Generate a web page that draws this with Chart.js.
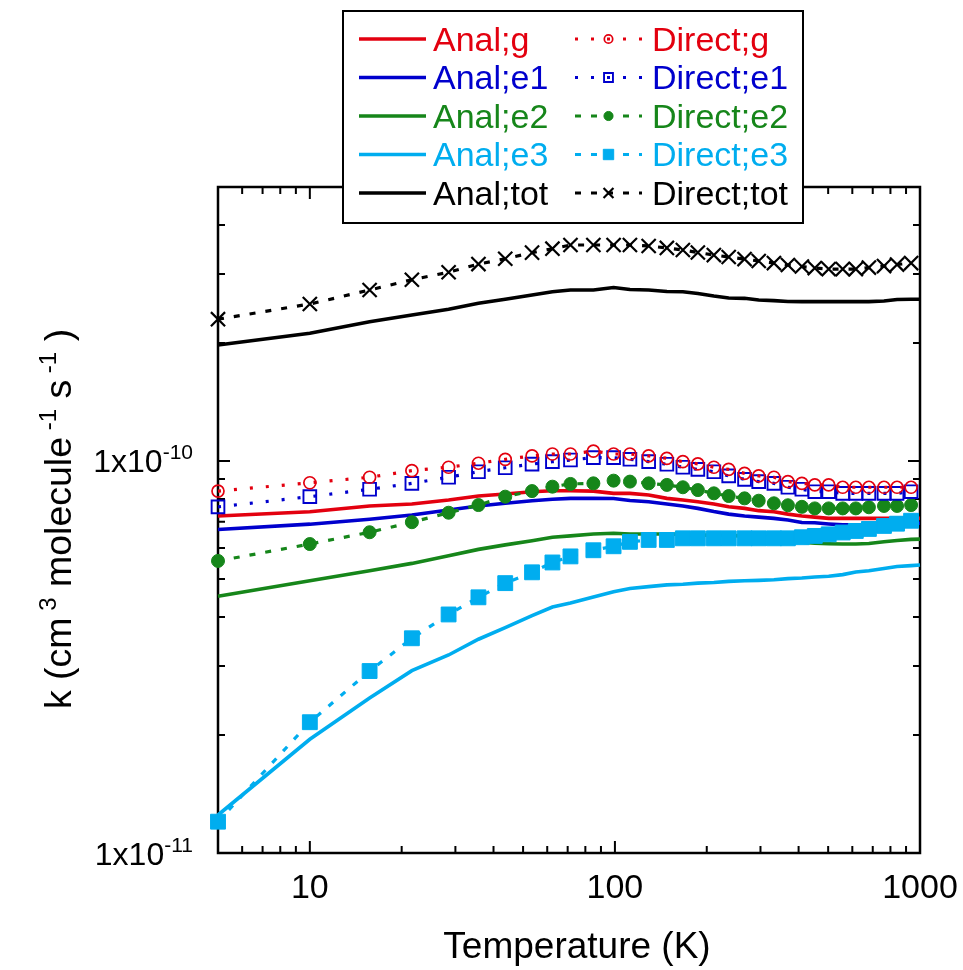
<!DOCTYPE html>
<html>
<head>
<meta charset="utf-8">
<script src="https://cdn.jsdelivr.net/npm/chart.js@4.4.0/dist/chart.umd.min.js"></script>
<style>
  html, body { margin: 0; padding: 0; background: #ffffff; }
  #wrap { width: 963px; height: 970px; }
</style>
</head>
<body>
<div id="wrap"><canvas id="c" width="963" height="970"></canvas></div>
<script>
// ---------------- data ----------------
const temperatures = [5, 10, 15.7, 21.6, 28.5, 35.7, 43.7, 53.5, 62.4, 71.5, 85, 99, 112, 129, 148, 167, 187, 211, 236, 266, 296, 332, 369, 410, 452, 502, 558, 616, 680, 762, 841, 935];
const analTemperatures = [5, 10, 15.7, 21.6, 28.5, 35.7, 43.7, 53.5, 62.4, 71.5, 85, 99, 112, 129, 148, 167, 187, 211, 236, 266, 296, 332, 369, 410, 452, 502, 558, 616, 680, 762, 841, 935, 1000];

const analG = [7.24e-11, 7.42e-11, 7.68e-11, 7.77e-11, 7.95e-11, 8.14e-11, 8.24e-11, 8.35e-11, 8.40e-11, 8.40e-11, 8.38e-11, 8.27e-11, 8.27e-11, 8.19e-11, 8.03e-11, 7.95e-11, 7.87e-11, 7.77e-11, 7.64e-11, 7.57e-11, 7.47e-11, 7.42e-11, 7.32e-11, 7.24e-11, 7.19e-11, 7.14e-11, 7.14e-11, 7.14e-11, 7.14e-11, 7.14e-11, 7.14e-11, 7.14e-11, 7.14e-11];
const analE1 = [6.69e-11, 6.90e-11, 7.10e-11, 7.28e-11, 7.50e-11, 7.68e-11, 7.80e-11, 7.92e-11, 7.99e-11, 8.03e-11, 8.03e-11, 8.02e-11, 7.93e-11, 7.87e-11, 7.77e-11, 7.68e-11, 7.57e-11, 7.43e-11, 7.32e-11, 7.24e-11, 7.19e-11, 7.14e-11, 7.07e-11, 6.97e-11, 6.96e-11, 6.91e-11, 6.87e-11, 6.87e-11, 6.87e-11, 6.89e-11, 6.93e-11, 6.94e-11, 6.94e-11];
const analE2 = [4.52e-11, 4.95e-11, 5.25e-11, 5.48e-11, 5.73e-11, 5.95e-11, 6.11e-11, 6.26e-11, 6.39e-11, 6.44e-11, 6.51e-11, 6.54e-11, 6.51e-11, 6.51e-11, 6.51e-11, 6.50e-11, 6.47e-11, 6.47e-11, 6.45e-11, 6.44e-11, 6.40e-11, 6.36e-11, 6.29e-11, 6.21e-11, 6.17e-11, 6.15e-11, 6.14e-11, 6.14e-11, 6.16e-11, 6.22e-11, 6.27e-11, 6.31e-11, 6.32e-11];
const analE3 = [1.25e-11, 1.95e-11, 2.485e-11, 2.918e-11, 3.20e-11, 3.51e-11, 3.76e-11, 4.03e-11, 4.24e-11, 4.34e-11, 4.50e-11, 4.64e-11, 4.73e-11, 4.78e-11, 4.83e-11, 4.85e-11, 4.88e-11, 4.90e-11, 4.93e-11, 4.95e-11, 4.96e-11, 4.98e-11, 5.01e-11, 5.03e-11, 5.06e-11, 5.08e-11, 5.13e-11, 5.21e-11, 5.25e-11, 5.32e-11, 5.38e-11, 5.41e-11, 5.43e-11];
const analTot = [1.977e-10, 2.117e-10, 2.266e-10, 2.357e-10, 2.438e-10, 2.525e-10, 2.585e-10, 2.651e-10, 2.703e-10, 2.730e-10, 2.730e-10, 2.770e-10, 2.738e-10, 2.730e-10, 2.706e-10, 2.703e-10, 2.675e-10, 2.635e-10, 2.605e-10, 2.600e-10, 2.575e-10, 2.565e-10, 2.553e-10, 2.550e-10, 2.550e-10, 2.550e-10, 2.550e-10, 2.550e-10, 2.550e-10, 2.560e-10, 2.583e-10, 2.585e-10, 2.585e-10];

const directG = [8.38e-11, 8.80e-11, 9.09e-11, 9.45e-11, 9.64e-11, 9.87e-11, 10.10e-11, 10.30e-11, 10.42e-11, 10.42e-11, 10.60e-11, 10.42e-11, 10.42e-11, 10.30e-11, 10.16e-11, 9.96e-11, 9.83e-11, 9.64e-11, 9.52e-11, 9.30e-11, 9.16e-11, 9.09e-11, 8.86e-11, 8.77e-11, 8.69e-11, 8.69e-11, 8.57e-11, 8.57e-11, 8.57e-11, 8.57e-11, 8.57e-11, 8.57e-11];
const directE1 = [7.64e-11, 8.11e-11, 8.47e-11, 8.77e-11, 9.09e-11, 9.39e-11, 9.61e-11, 9.82e-11, 9.96e-11, 10.06e-11, 10.20e-11, 10.20e-11, 10.10e-11, 9.96e-11, 9.81e-11, 9.64e-11, 9.52e-11, 9.39e-11, 9.16e-11, 8.98e-11, 8.86e-11, 8.77e-11, 8.57e-11, 8.47e-11, 8.35e-11, 8.35e-11, 8.27e-11, 8.27e-11, 8.27e-11, 8.27e-11, 8.27e-11, 8.35e-11];
const directE2 = [5.56e-11, 6.14e-11, 6.58e-11, 6.98e-11, 7.38e-11, 7.72e-11, 8.11e-11, 8.38e-11, 8.60e-11, 8.74e-11, 8.77e-11, 8.91e-11, 8.86e-11, 8.77e-11, 8.69e-11, 8.57e-11, 8.43e-11, 8.27e-11, 8.14e-11, 8.03e-11, 7.92e-11, 7.80e-11, 7.71e-11, 7.64e-11, 7.57e-11, 7.57e-11, 7.57e-11, 7.57e-11, 7.62e-11, 7.68e-11, 7.68e-11, 7.72e-11];
const directE3 = [1.202e-11, 2.156e-11, 2.912e-11, 3.53e-11, 4.06e-11, 4.49e-11, 4.88e-11, 5.20e-11, 5.51e-11, 5.71e-11, 5.92e-11, 6.06e-11, 6.22e-11, 6.29e-11, 6.29e-11, 6.35e-11, 6.35e-11, 6.35e-11, 6.35e-11, 6.35e-11, 6.35e-11, 6.35e-11, 6.35e-11, 6.39e-11, 6.44e-11, 6.50e-11, 6.57e-11, 6.63e-11, 6.71e-11, 6.83e-11, 6.92e-11, 7.04e-11];
const directTot = [2.30e-10, 2.515e-10, 2.73e-10, 2.90e-10, 3.03e-10, 3.18e-10, 3.28e-10, 3.40e-10, 3.48e-10, 3.556e-10, 3.556e-10, 3.556e-10, 3.556e-10, 3.536e-10, 3.495e-10, 3.453e-10, 3.403e-10, 3.353e-10, 3.314e-10, 3.275e-10, 3.237e-10, 3.199e-10, 3.162e-10, 3.134e-10, 3.106e-10, 3.088e-10, 3.088e-10, 3.088e-10, 3.115e-10, 3.143e-10, 3.171e-10, 3.199e-10];

const xTickValues = [5, 6, 7, 8, 9, 10, 20, 30, 40, 50, 60, 70, 80, 90, 100, 200, 300, 400, 500, 600, 700, 800, 900, 1000];
const xTickLabels = ['10', '100', '1000'];
const xLabelValues = [10, 100, 1000];
const yTickValues = [1e-11, 2e-11, 3e-11, 4e-11, 5e-11, 6e-11, 7e-11, 8e-11, 9e-11, 1e-10, 2e-10, 3e-10, 4e-10, 5e-10];
const yLabelValues = [1e-11, 1e-10];
const yLabelBase = '1x10';
const yLabelExponents = ['-11', '-10'];
const xTitle = 'Temperature (K)';
const yTitleParts = [['k (cm', false], [' 3', true], [' molecule', false], [' -1', true], [' s', false], [' -1', true], [' )', false]];

// ---------------- styles ----------------
const RED = '#e3000f', BLUE = '#0000cd', GREEN = '#16861a', CYAN = '#00adef', BLACK = '#000000';
const FONT = '"Liberation Sans", Arial, Helvetica, sans-serif';
const NONE = 'rgba(0,0,0,0)';

function pts(xs, ys) { return xs.map((x, i) => ({ x: x, y: ys[i] })); }

function anal(label, color, ys) {
  return { label, data: pts(analTemperatures, ys), borderColor: color, backgroundColor: color,
    borderWidth: 3.6, pointRadius: 0, pointHoverRadius: 0, tension: 0, fill: false, clip: false, kind: 'anal' };
}
function direct(label, color, ys, dash, style, radius, filled, pbw) {
  return { label, data: pts(temperatures, ys), borderColor: color, backgroundColor: color,
    borderWidth: 3.2, borderDash: dash, borderCapStyle: 'butt', tension: 0, fill: false, clip: false,
    pointStyle: style, pointRadius: radius, pointHoverRadius: radius,
    pointBorderColor: color, pointBackgroundColor: filled ? color : NONE, pointBorderWidth: pbw, kind: 'direct' };
}

const DOT = [3, 13], DASH = [6, 10];
const dsDirect = [
  direct('Direct;g', RED, directG, DOT, 'circle', 6, false, 1.7),
  direct('Direct;e1', BLUE, directE1, DOT, 'rect', 9, false, 1.9),
  direct('Direct;e2', GREEN, directE2, DASH, 'circle', 6.5, true, 1),
  direct('Direct;e3', CYAN, directE3, DASH, 'rect', 10.5, true, 1),
  direct('Direct;tot', BLACK, directTot, DASH, 'crossRot', 10, false, 2.2)
];
const dsAnal = [
  anal('Anal;g', RED, analG),
  anal('Anal;e1', BLUE, analE1),
  anal('Anal;e2', GREEN, analE2),
  anal('Anal;e3', CYAN, analE3),
  anal('Anal;tot', BLACK, analTot)
];

// ---------------- decoration plugin ----------------
function drawSupText(ctx, parts, x, y, baseSize, supSize, supRise, align) {
  let total = 0;
  const widths = parts.map(p => {
    ctx.font = (p[1] ? supSize : baseSize) + 'px ' + FONT;
    const w = ctx.measureText(p[0]).width;
    total += w;
    return w;
  });
  let cx = align === 'right' ? x - total : (align === 'center' ? x - total / 2 : x);
  parts.forEach((p, i) => {
    ctx.font = (p[1] ? supSize : baseSize) + 'px ' + FONT;
    ctx.fillText(p[0], cx, p[1] ? y - supRise : y);
    cx += widths[i];
  });
}

const decor = {
  id: 'decor',
  beforeDatasetsDraw(chart) {
    const { ctx, chartArea: a, scales } = chart;
    const xs = scales.x, ys = scales.y;
    ctx.save();
    ctx.strokeStyle = '#000';
    ctx.lineWidth = 2;
    ctx.setLineDash([]);
    xTickValues.forEach(v => {
      const px = xs.getPixelForValue(v);
      const major = Math.abs(Math.log10(v) - Math.round(Math.log10(v))) < 1e-9;
      const len = major ? 12 : 7;
      ctx.beginPath();
      ctx.moveTo(px, a.bottom); ctx.lineTo(px, a.bottom - len);
      ctx.moveTo(px, a.top); ctx.lineTo(px, a.top + len);
      ctx.stroke();
    });
    yTickValues.forEach(v => {
      const py = ys.getPixelForValue(v);
      const major = Math.abs(Math.log10(v) - Math.round(Math.log10(v))) < 1e-9;
      const len = major ? 12 : 7;
      ctx.beginPath();
      ctx.moveTo(a.left, py); ctx.lineTo(a.left + len, py);
      ctx.moveTo(a.right, py); ctx.lineTo(a.right - len, py);
      ctx.stroke();
    });
    ctx.lineWidth = 2.5;
    ctx.strokeRect(a.left, a.top, a.right - a.left, a.bottom - a.top);
    ctx.restore();
  },
  afterDraw(chart) {
    const { ctx, chartArea: a, scales } = chart;
    const xs = scales.x, ys = scales.y;
    ctx.save();
    ctx.fillStyle = '#000';
    ctx.textBaseline = 'alphabetic';
    // x tick labels
    ctx.font = '34px ' + FONT;
    ctx.textAlign = 'center';
    xLabelValues.forEach((v, i) => {
      ctx.fillText(xTickLabels[i], xs.getPixelForValue(v), 898);
    });
    // x title
    ctx.font = '37px ' + FONT;
    ctx.fillText(xTitle, 577, 958);
    // y tick labels
    ctx.textAlign = 'left';
    yLabelValues.forEach((v, i) => {
      const py = ys.getPixelForValue(v);
      drawSupText(ctx, [[yLabelBase, false], [yLabelExponents[i], true]], 193, py + 11.5, 32, 21, 13, 'right');
    });
    // y title
    ctx.save();
    ctx.translate(71, 519);
    ctx.rotate(-Math.PI / 2);
    drawSupText(ctx, yTitleParts, 0, 0, 37.5, 24, 15, 'center');
    ctx.restore();

    // legend
    const box = { x: 343, y: 11, w: 460, h: 212 };
    ctx.fillStyle = '#fff';
    ctx.fillRect(box.x, box.y, box.w, box.h);
    ctx.strokeStyle = '#000';
    ctx.lineWidth = 2;
    ctx.strokeRect(box.x, box.y, box.w, box.h);
    const row0 = 39, step = 38.5;
    ctx.font = '34px ' + FONT;
    ctx.textAlign = 'left';
    for (let i = 0; i < 5; i++) {
      const y = row0 + i * step;
      const da = dsAnal[i], dd = dsDirect[i];
      ctx.setLineDash([]);
      ctx.strokeStyle = da.borderColor;
      ctx.lineWidth = da.borderWidth;
      ctx.beginPath(); ctx.moveTo(359, y); ctx.lineTo(426, y); ctx.stroke();
      ctx.fillStyle = da.borderColor;
      ctx.fillText(da.label, 433, y + 11.5);
      ctx.setLineDash(dd.borderDash);
      ctx.strokeStyle = dd.borderColor;
      ctx.lineWidth = dd.borderWidth;
      ctx.beginPath(); ctx.moveTo(575, y); ctx.lineTo(642, y); ctx.stroke();
      ctx.setLineDash([]);
      ctx.strokeStyle = dd.pointBorderColor;
      ctx.fillStyle = dd.pointBackgroundColor;
      ctx.lineWidth = dd.pointBorderWidth;
      Chart.helpers.drawPoint(ctx, { pointStyle: dd.pointStyle, radius: dd.pointRadius * 0.7, rotation: 0, borderWidth: dd.pointBorderWidth }, 608.5, y);
      ctx.fillStyle = dd.borderColor;
      ctx.fillText(dd.label, 652, y + 11.5);
    }
    ctx.restore();
  }
};

// ---------------- chart ----------------
new Chart(document.getElementById('c'), {
  type: 'line',
  data: { datasets: [...dsDirect, ...dsAnal] },
  options: {
    responsive: false,
    animation: false,
    events: [],
    layout: { padding: { left: 218, top: 187, right: 43, bottom: 117 } },
    plugins: { legend: { display: false }, tooltip: { enabled: false } },
    scales: {
      x: { type: 'logarithmic', min: 5, max: 1000,
        grid: { display: false, drawTicks: false }, border: { display: false },
        ticks: { display: false }, title: { display: false } },
      y: { type: 'logarithmic', min: 1e-11, max: 5e-10,
        grid: { display: false, drawTicks: false }, border: { display: false },
        ticks: { display: false }, title: { display: false } }
    }
  },
  plugins: [decor]
});
</script>
</body>
</html>
